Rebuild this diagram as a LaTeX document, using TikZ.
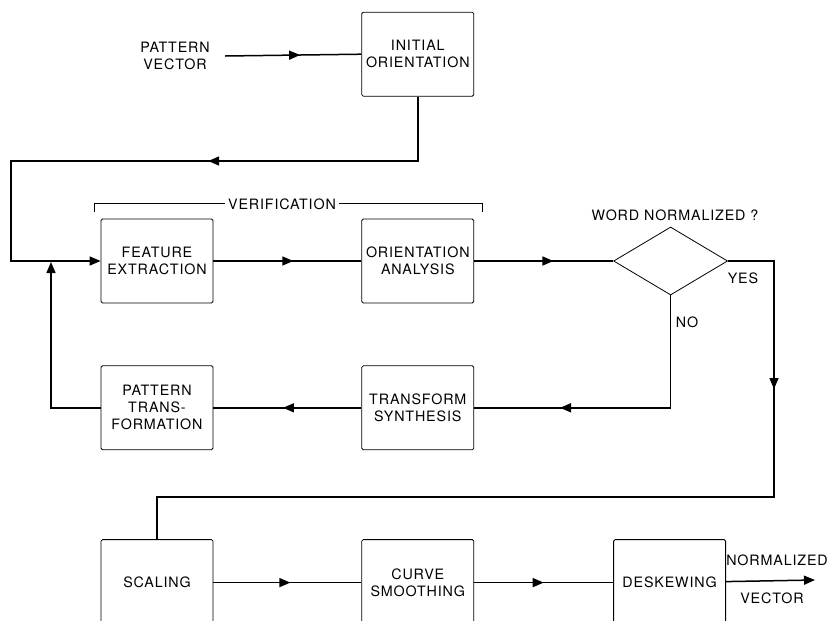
\documentclass[tikz,border=0pt]{standalone}
\usepackage{fontspec}
\setmainfont{TeX Gyre Heros}[LetterSpace=6]
\usetikzlibrary{shapes.geometric,arrows.meta,positioning,calc,decorations.markings}

\begin{document}
\begin{tikzpicture}[x=1pt,y=-1pt,node distance=148pt,
  font=\fontsize{14.3pt}{17pt}\selectfont,
  box/.style={draw,line width=0.8pt,rounded corners=1.5pt,minimum width=112pt,minimum height=84pt,align=center,inner sep=2pt},
  flow/.style={line width=1.5pt},
  endarrow/.style={-{Triangle[length=11pt,width=9pt]}},
  midarrow/.style={postaction={decorate},decoration={markings,mark=at position #1 with {\arrow{Triangle[length=11pt,width=9pt]}}}}]
  \useasboundingbox (0,0) rectangle (830,621);
  \clip (0,0) rectangle (830,621);
  % verification loop
  \node[box] (fe) at (157,261) {FEATURE\\EXTRACTION};
  \node[box,right=of fe] (oa) {ORIENTATION\\ANALYSIS};
  \node[box,above=122pt of oa] (io) {INITIAL\\ORIENTATION};
  \node[align=center] (pv) at (175,56) {PATTERN\\VECTOR};
  \node[draw,diamond,line width=0.8pt,minimum width=114pt,minimum height=68pt,inner sep=0pt,right=139pt of oa] (dec) {};
  \node (wn) at (675,215) {WORD NORMALIZED ?};
  \node (yes) at (743,278) {YES};
  \node (no) at (687,322) {NO};
  \node[box,below=62pt of fe] (pt) {PATTERN\\TRANS-\\FORMATION};
  \node[box,right=of pt] (ts) {TRANSFORM\\SYNTHESIS};
  % output chain
  \node[box,minimum height=86pt,below=89pt of pt] (sc) {SCALING};
  \node[box,minimum height=86pt,right=of sc] (cs) {CURVE\\SMOOTHING};
  \node[box,minimum height=86pt,right=139pt of cs] (ds) {DESKEWING};
  \node (nz) at (777,560) {NORMALIZED};
  \node (vc) at (772,598) {VECTOR};
  \coordinate (top) at (11,161);
  \coordinate (jn) at (51,261);
  \coordinate (turn) at (774,497);
  \coordinate (out) at (815,580);
  % bracket
  \draw[line width=0.6pt] ($(fe.north west)+(-6,-7)$) -- ++(0,-8) -| ($(oa.north east)+(8,-7)$);
  \node[fill=white,inner xsep=3pt] (verif) at (282,204) {VERIFICATION};
  % connectors
  \draw[flow,midarrow=0.55] ([xshift=12pt]pv.east) -- (io.west);
  \draw[flow,midarrow=274pt,endarrow] (io.south) |- (top) |- (fe.west);
  \draw[flow,midarrow=0.54] (fe) -- (oa);
  \draw[flow,midarrow=0.57] (oa) -- (dec);
  \draw[flow,midarrow=174pt] (dec.east) -| (turn) -| (sc.north);
  \draw[flow,midarrow=223pt] (dec.south) |- (ts.east);
  \draw[flow,midarrow=0.53] (ts) -- (pt);
  \draw[flow,endarrow,shorten >=1pt] (pt.west) -| (jn);
  \draw[flow,midarrow=0.52] (sc) -- (cs);
  \draw[flow,midarrow=0.5] (cs) -- (ds);
  \draw[flow,endarrow] (ds) -- (out);
\end{tikzpicture}
\end{document}
